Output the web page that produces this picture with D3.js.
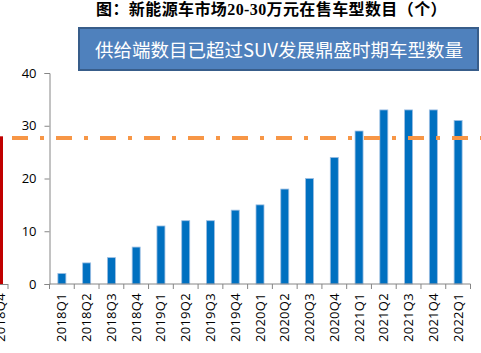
<!DOCTYPE html>
<html>
<head>
<meta charset="utf-8">
<script src="https://cdn.jsdelivr.net/npm/d3@7"></script>
<style>
  body { margin: 0; background: #fff; }
  svg { display: block; }
</style>
</head>
<body>
<div id="chart"></div>
<script>
const title = "图：新能源车市场20-30万元在售车型数目（个）";
const note = "供给端数目已超过SUV发展鼎盛时期车型数量";
const quarters = ["2018Q1", "2018Q2", "2018Q3", "2018Q4", "2019Q1", "2019Q2", "2019Q3", "2019Q4",
    "2020Q1", "2020Q2", "2020Q3", "2020Q4", "2021Q1", "2021Q2", "2021Q3", "2021Q4", "2022Q1"];
const models = [2, 4, 5, 7, 11, 12, 12, 14, 15, 18, 20, 24, 29, 33, 33, 33, 31];
const yTicks = [0, 10, 20, 30, 40];
const suvPeak = 27.7;
// cropped edge of the neighbouring chart
const leftChartLabel = "2018Q4";
const leftChartValue = 28;

const W = 481, H = 353;
const margin = { top: 73, right: 10.5, bottom: 69, left: 49.5 };
const width = W - margin.left - margin.right;
const height = H - margin.top - margin.bottom;
const axisColor = "#868686";
const font = "'Open Sans', 'Noto Sans CJK SC', sans-serif";

const svg = d3.select("#chart").append("svg")
    .attr("width", W)
    .attr("height", H);

const x = d3.scaleBand().domain(quarters).range([margin.left, margin.left + width]);
const y = d3.scaleLinear().domain([0, 40]).range([margin.top + height, margin.top]);

// title
svg.append("text")
    .attr("x", 271.5)
    .attr("y", 15)
    .attr("text-anchor", "middle")
    .attr("font-family", "'Liberation Serif', 'Noto Sans CJK SC', serif")
    .attr("font-weight", "bold")
    .attr("font-size", 16)
    .attr("letter-spacing", 0.4)
    .attr("fill", "#000")
    .text(title);

// bars
svg.append("g").selectAll("rect")
    .data(models)
    .join("rect")
    .attr("x", (d, i) => x(quarters[i]) + x.bandwidth() / 2 - 4)
    .attr("y", d => y(d))
    .attr("width", 8)
    .attr("height", d => y(0) - y(d))
    .attr("fill", "#0070C0")
    .attr("stroke", "#9dbfe3")
    .attr("stroke-width", 0.8);

// y axis
const yAxis = svg.append("g")
    .attr("transform", `translate(${margin.left},0)`)
    .call(d3.axisLeft(y).tickValues(yTicks).tickSize(5).tickPadding(8));
yAxis.select(".domain").attr("stroke", axisColor);
yAxis.selectAll(".tick line").attr("stroke", axisColor);
yAxis.selectAll(".tick text")
    .attr("font-family", font)
    .attr("font-size", 13)
    .attr("fill", "#000");

// x axis with ticks between categories
const xg = svg.append("g")
    .attr("transform", `translate(0,${y(0)})`);
xg.append("line")
    .attr("x1", margin.left).attr("x2", margin.left + width)
    .attr("stroke", axisColor);
xg.selectAll("line.tick")
    .data(d3.range(quarters.length + 1))
    .join("line")
    .attr("class", "tick")
    .attr("x1", i => margin.left + i * x.step())
    .attr("x2", i => margin.left + i * x.step())
    .attr("y1", 0).attr("y2", 5)
    .attr("stroke", axisColor);
xg.selectAll("text")
    .data(quarters)
    .join("text")
    .attr("transform", d => `translate(${x(d) + x.bandwidth() / 2 + 4.5},9) rotate(-90)`)
    .attr("text-anchor", "end")
    .attr("font-family", font)
    .attr("font-size", 13)
    .attr("letter-spacing", 0.3)
    .attr("fill", "#000")
    .text(d => d);

// SUV peak reference line
svg.append("line")
    .attr("x1", 0).attr("x2", W)
    .attr("y1", y(suvPeak)).attr("y2", y(suvPeak))
    .attr("stroke", "#F79646")
    .attr("stroke-width", 4)
    .attr("stroke-dasharray", "16 12 4 12")
    .attr("stroke-dashoffset", -12);

// cropped neighbouring chart on the left edge
svg.append("line")
    .attr("x1", 1.5).attr("x2", 1.5)
    .attr("y1", y(leftChartValue)).attr("y2", y(0))
    .attr("stroke", "#C00000")
    .attr("stroke-width", 3);
svg.append("line")
    .attr("x1", 0).attr("x2", 8)
    .attr("y1", y(0) + 0.5).attr("y2", y(0) + 0.5)
    .attr("stroke", axisColor);
svg.append("line")
    .attr("x1", 8).attr("x2", 8)
    .attr("y1", y(0)).attr("y2", y(0) + 5)
    .attr("stroke", axisColor);
svg.append("text")
    .attr("transform", `translate(4.5,${y(0) + 9}) rotate(-90)`)
    .attr("text-anchor", "end")
    .attr("font-family", font)
    .attr("font-size", 13)
    .attr("letter-spacing", 0.3)
    .attr("fill", "#000")
    .text(leftChartLabel);

// annotation box
svg.append("rect")
    .attr("x", 79).attr("y", 28)
    .attr("width", 399).attr("height", 42)
    .attr("fill", "#4F81BD")
    .attr("stroke", "#385D8A")
    .attr("stroke-width", 2);
svg.append("text")
    .attr("x", 279)
    .attr("y", 57)
    .attr("text-anchor", "middle")
    .attr("font-family", "'Noto Sans CJK SC', sans-serif")
    .attr("font-size", 18.5)
    .attr("fill", "#fff")
    .text(note);
</script>
</body>
</html>
